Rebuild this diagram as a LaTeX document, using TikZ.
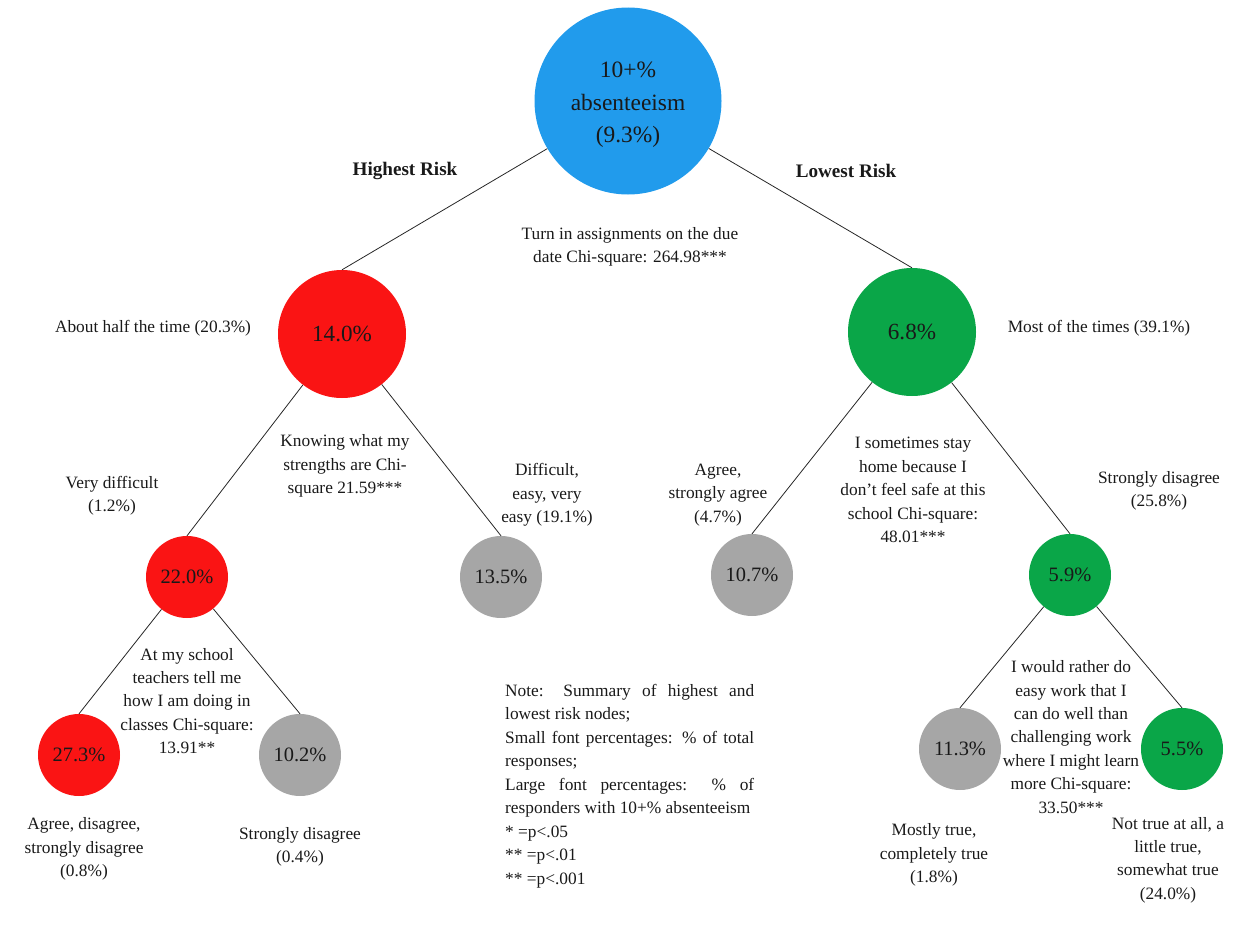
\documentclass[tikz,border=0pt]{standalone}
\usepackage{fontspec}
\setmainfont{Liberation Serif}
\definecolor{cblue}{RGB}{33,155,236}
\definecolor{cred}{RGB}{250,20,20}
\definecolor{cgreen}{RGB}{10,166,72}
\definecolor{cgrey}{RGB}{166,166,166}
\definecolor{ctext}{RGB}{25,25,25}
\begin{document}
\begin{tikzpicture}[x=1bp,y=-1bp,
  lbl/.style={align=center, inner sep=0pt, text=ctext, font=\fontsize{17.4}{23.5}\selectfont},
  bold/.style={inner sep=0pt, text=ctext, font=\fontsize{19.2}{23}\selectfont\bfseries},
  bigc/.style={circle, inner sep=0pt, minimum size=128bp, text=ctext, font=\fontsize{23.2}{28}\selectfont},
  smallc/.style={circle, inner sep=0pt, minimum size=82bp, text=ctext, font=\fontsize{20.5}{25}\selectfont},
  edge/.style={draw=black!85, line width=0.8bp}]
\useasboundingbox (0,0) rectangle (1251,940);

% root
\node[circle, fill=cblue, inner sep=0pt, minimum size=187bp] (root) at (628,101) {};
\node[align=center, inner sep=0pt, text=ctext, font=\fontsize{23.5}{32.5}\selectfont]
  (roottxt) at (628,105) {10+\%\\absenteeism\\(9.3\%)};

% level 1
\node[bigc, fill=cred] (n14) at (342,334) {14.0\%};
\node[bigc, fill=cgreen] (n68) at (912,332) {6.8\%};

% level 2
\node[smallc, fill=cred] (n22) at (187,577) {22.0\%};
\node[smallc, fill=cgrey] (n135) at (501,577) {13.5\%};
\node[smallc, fill=cgrey] (n107) at (752,575) {10.7\%};
\node[smallc, fill=cgreen] (n59) at (1070,575) {5.9\%};

% level 3
\node[smallc, fill=cred] (n273) at (79,755) {27.3\%};
\node[smallc, fill=cgrey] (n102) at (300,755) {10.2\%};
\node[smallc, fill=cgrey] (n113) at (960,749) {11.3\%};
\node[smallc, fill=cgreen] (n55) at (1182,749) {5.5\%};

% edges
\draw[edge] (root) -- (n14.north);
\draw[edge] (root) -- (n68.north);
\draw[edge] (n14) -- (n22.north);
\draw[edge] (n14) -- (n135.north);
\draw[edge] (n22) -- (n273.north);
\draw[edge] (n22) -- (n102.north);
\draw[edge] (n68) -- (n107.north);
\draw[edge] (n68) -- (n59.north);
\draw[edge] (n59) -- (n113.north);
\draw[edge] (n59) -- (n55.north);

% labels
\node[bold] (hr) at (405,171) {Highest Risk};
\node[bold] (lr) at (846,171) {Lowest Risk};
\node[lbl] (q1) at (630,247) {Turn in assignments on the due\\date Chi-square: 264.98***};
\node[lbl] (a1) at (153,328) {About half the time (20.3\%)};
\node[lbl] (b1) at (1099,328) {Most of the times (39.1\%)};

\node[lbl] (q2) at (345,466) {Knowing what my\\strengths are Chi-\\square 21.59***};
\node[lbl] (a2) at (112,496) {Very difficult\\(1.2\%)};
\node[lbl] (a3) at (547,495) {Difficult,\\easy, very\\easy (19.1\%)};

\node[lbl] (q3) at (187,701) {At my school\\teachers tell me\\how I am doing in\\classes Chi-square:\\13.91**};
\node[lbl] (a4) at (84,849) {Agree, disagree,\\strongly disagree\\(0.8\%)};
\node[lbl] (a5) at (300,847) {Strongly disagree\\(0.4\%)};

\node[lbl] (b2) at (718,495) {Agree,\\strongly agree\\(4.7\%)};
\node[lbl] (q4) at (913,490) {I sometimes stay\\home because I\\don’t feel safe at this\\school Chi-square:\\48.01***};
\node[lbl] (b3) at (1159,491) {Strongly disagree\\(25.8\%)};

\node[lbl] (q5) at (1071,737) {I would rather do\\easy work that I\\can do well than\\challenging work\\where I might learn\\more Chi-square:\\33.50***};
\node[lbl] (b4) at (934,855) {Mostly true,\\completely true\\(1.8\%)};
\node[lbl] (b5) at (1168,860) {Not true at all, a\\little true,\\somewhat true\\(24.0\%)};

% note
\node[anchor=north west, inner sep=0pt, text=ctext, align=left,
      font=\fontsize{17.4}{23.6}\selectfont] (note) at (505,684)
 {\makebox[249bp][s]{Note: Summary of highest and}\\
  lowest risk nodes;\\
  \makebox[249bp][s]{Small font percentages: \% of total}\\
  responses;\\
  \makebox[249bp][s]{Large font percentages: \% of}\\
  responders with 10+\% absenteeism\\
  * =p<.05\\
  ** =p<.01\\
  ** =p<.001};
\end{tikzpicture}
\end{document}
